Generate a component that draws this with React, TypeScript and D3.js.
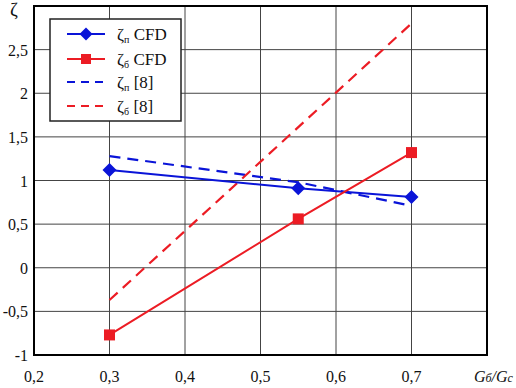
import React from 'react'
import * as d3 from 'd3'

// values
const xTicks = [0.2, 0.3, 0.4, 0.5, 0.6, 0.7]
const yTicks = [-1, -0.5, 0, 0.5, 1, 1.5, 2, 2.5]
const xGrid = [0.3, 0.4, 0.5, 0.6, 0.7]
const yGrid = [-0.5, 0, 0.5, 1, 1.5, 2, 2.5]

const xCfd = [0.3, 0.55, 0.7]
const zetaPCfd = [1.12, 0.91, 0.81]
const zetaBCfd = [-0.77, 0.56, 1.32]
const xRef = [0.3, 0.55, 0.7]
const zetaPRef = [1.28, 0.98, 0.71]
const xRefB = [0.3, 0.7]
const zetaBRef = [-0.37, 2.8]

const BLUE = '#0a14d8'
const RED = '#ec1c24'

const W = 516
const H = 388
const margin = { top: 6, right: 29, bottom: 33, left: 34 }

const fmt = (v: number) => String(v).replace('.', ',')

export default function App() {
  const x = d3.scaleLinear().domain([0.2, 0.8]).range([margin.left, W - margin.right])
  const y = d3.scaleLinear().domain([-1, 3]).range([H - margin.bottom, margin.top])

  const ln = d3.line<[number, number]>().x(d => x(d[0])).y(d => y(d[1]))
  const zip = (xs: number[], ys: number[]) => xs.map((v, i) => [v, ys[i]] as [number, number])

  const diamond = (cx: number, cy: number, r = 7) =>
    `M${cx},${cy - r}L${cx + r},${cy}L${cx},${cy + r}L${cx - r},${cy}Z`

  const font = "'Liberation Serif', 'DejaVu Serif', serif"
  const lg = { x: 50, y: 19, w: 131, h: 102 }
  const rows = [34, 59, 82, 106]

  return (
    <svg width={W} height={H} style={{ position: 'absolute', left: 0, top: 0, background: '#fff', fontFamily: font }}>
      <rect x={0} y={0} width={W} height={H} fill="#fff" />
      {/* grid */}
      {xGrid.map(v => (
        <line key={'gx' + v} x1={x(v)} x2={x(v)} y1={y(3)} y2={y(-1)} stroke="#444" strokeWidth={1} />
      ))}
      {yGrid.map(v => (
        <line key={'gy' + v} x1={x(0.2)} x2={x(0.8)} y1={y(v)} y2={y(v)} stroke="#444" strokeWidth={1} />
      ))}
      {/* frame */}
      <rect x={x(0.2)} y={y(3)} width={x(0.8) - x(0.2)} height={y(-1) - y(3)} fill="none" stroke="#000" strokeWidth={2} />

      {/* tick labels */}
      {yTicks.map(v => (
        <text key={'ty' + v} x={28} y={y(v) + 6} textAnchor="end" fontSize={16} fill="#111">
          {fmt(v)}
        </text>
      ))}
      {xTicks.map(v => (
        <text key={'tx' + v} x={x(v)} y={382} textAnchor="middle" fontSize={16} fill="#111">
          {fmt(v)}
        </text>
      ))}
      <text x={14} y={16} textAnchor="middle" fontSize={19} fill="#111">ζ</text>
      <text x={474} y={382} fontSize={16} fontStyle="italic" fill="#111">
        G<tspan fontSize={12}>б</tspan>/G<tspan fontSize={12}>с</tspan>
      </text>

      {/* series */}
      <path d={ln(zip(xRef, zetaPRef)) || ''} fill="none" stroke={BLUE} strokeWidth={2.2} strokeDasharray="11,7" />
      <path d={ln(zip(xRefB, zetaBRef)) || ''} fill="none" stroke={RED} strokeWidth={2.2} strokeDasharray="11,7" />
      <path d={ln(zip(xCfd, zetaPCfd)) || ''} fill="none" stroke={BLUE} strokeWidth={2} />
      <path d={ln(zip(xCfd, zetaBCfd)) || ''} fill="none" stroke={RED} strokeWidth={2} />
      {zip(xCfd, zetaPCfd).map((p, i) => (
        <path key={'dp' + i} d={diamond(x(p[0]), y(p[1]))} fill={BLUE} />
      ))}
      {zip(xCfd, zetaBCfd).map((p, i) => (
        <rect key={'sb' + i} x={x(p[0]) - 5.5} y={y(p[1]) - 5.5} width={11} height={11} fill={RED} />
      ))}

      {/* legend */}
      <rect x={lg.x} y={lg.y} width={lg.w} height={lg.h} fill="#fff" stroke="#222" strokeWidth={1.5} />
      <line x1={67} x2={105} y1={rows[0]} y2={rows[0]} stroke={BLUE} strokeWidth={2} />
      <path d={diamond(86, rows[0], 6.5)} fill={BLUE} />
      <line x1={67} x2={105} y1={rows[1]} y2={rows[1]} stroke={RED} strokeWidth={2} />
      <rect x={81} y={rows[1] - 5} width={10} height={10} fill={RED} />
      <line x1={67} x2={105} y1={rows[2]} y2={rows[2]} stroke={BLUE} strokeWidth={2} strokeDasharray="8,6" />
      <line x1={67} x2={105} y1={rows[3]} y2={rows[3]} stroke={RED} strokeWidth={2} strokeDasharray="8,6" />
      {[
        ['п', ' CFD'],
        ['б', ' CFD'],
        ['п', ' [8]'],
        ['б', ' [8]'],
      ].map((t, i) => (
        <text key={'lg' + i} x={117} y={rows[i] + 6} fontSize={17} fill="#111">
          ζ<tspan fontSize={10} dy={3}>{t[0]}</tspan>
          <tspan dy={-3}>{t[1]}</tspan>
        </text>
      ))}
    </svg>
  )
}
